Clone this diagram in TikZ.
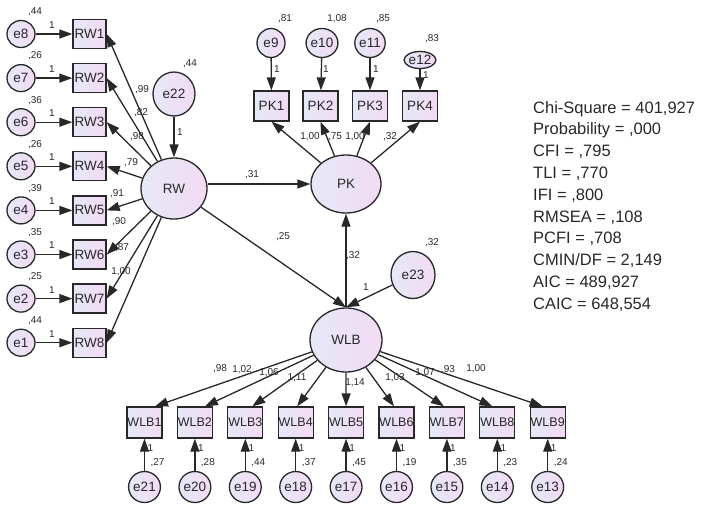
\documentclass[tikz,border=0pt]{standalone}
\usepackage{fontspec}
\setmainfont{Liberation Sans}
\usetikzlibrary{arrows.meta,shapes.geometric,calc}
\definecolor{lavA}{RGB}{229,232,247}
\definecolor{lavB}{RGB}{242,219,244}
\definecolor{ink}{RGB}{40,40,40}
\begin{document}
\begin{tikzpicture}[x=1pt,y=-1pt,
 base/.style={draw=ink, line width=1.3pt, left color=lavA, right color=lavB, inner sep=0pt, font=\fontsize{13.5}{13.5}\selectfont, text=ink},
 obs/.style={base, rectangle, minimum width=34pt, minimum height=30pt},
 lat/.style={base, ellipse},
 arr/.style={draw=ink, line width=1.3pt, -{Triangle[length=13pt,width=9pt]}},
 lbl/.style={font=\fontsize{10}{10}\selectfont, text=ink, inner sep=0pt},
]
\useasboundingbox (0,0) rectangle (706,507);
% latent variables
\node[lat, minimum width=66pt, minimum height=61pt] (rw) at (174,188.5) {RW};
\node[lat, minimum width=70pt, minimum height=58pt] (pk) at (346,184) {PK};
\node[lat, minimum width=72pt, minimum height=64pt] (wlb) at (346,340) {WLB};
\node[lat, minimum width=42pt, minimum height=44pt] (e22) at (174,94) {e22};
\node[lat, minimum width=44pt, minimum height=47pt] (e23) at (413,275) {e23};
\node[lbl] at (190,64) {,44};
\node[lbl] at (432,243) {,32};
% RW indicators
\foreach \i/\e/\v [count=\k from 0] in {1/8/{,44},2/7/{,26},3/6/{,36},4/5/{,26},5/4/{,39},6/3/{,35},7/2/{,25},8/1/{,44}} {
  \pgfmathsetmacro\yy{34+44.1*\k}
  \node[obs, minimum width=33pt, minimum height=29pt] (rw\i) at (89.5,\yy) {RW\i};
  \node[lat, minimum width=28pt, minimum height=27pt] (e\e) at (21,\yy) {e\e};
  \node[lbl] at (35,\yy-22) {\v};
  \draw[arr] (e\e) -- (rw\i);
  \node[lbl] at (52,\yy-9) {1};
  \draw[arr] (rw) -- (rw\i.east);
}
\foreach \lx/\ly/\t in {142/90/{,99},141/113/{,82},137/137/{,98},131/163/{,79},117/194/{,91},119/222/{,90},122/248/{,87},121/272/{1,00}} {
  \node[lbl] at (\lx,\ly) {\t};
}
\draw[arr] (e22) -- (rw);
\node[lbl] at (180,132) {1};
% PK indicators
\node[lat, minimum width=28pt, minimum height=29pt] (e9) at (271,43) {e9};
\node[lat, minimum width=28pt, minimum height=29pt] (e10) at (322,43) {e10};
\node[lat, minimum width=28pt, minimum height=29pt] (e11) at (370,43) {e11};
\node[lat, minimum width=22pt, minimum height=17pt] (e12) at (420,60) {e12};
\node[obs, minimum width=35pt] (pk1) at (271.5,106) {PK1};
\node[obs, minimum width=35pt] (pk2) at (320.5,106) {PK2};
\node[obs, minimum width=35pt] (pk3) at (370,106) {PK3};
\node[obs, minimum width=35pt] (pk4) at (420,106) {PK4};
\foreach \i/\e/\lx/\ly/\v/\vx/\vy in {1/9/277/69/{,81}/285/19, 2/10/326/69/{1,08}/337/19, 3/11/376/69/{,85}/383/19, 4/12/426/75/{,83}/432/39} {
  \draw[arr] (e\e) -- (pk\i);
  \node[lbl] at (\lx,\ly) {1};
  \node[lbl] at (\vx,\vy) {\v};
  \draw[arr] (pk) -- (pk\i.south);
}
\node[lbl] at (310,137) {1,00};
\node[lbl] at (335,137) {,75};
\node[lbl] at (355,137) {1,00};
\node[lbl] at (390,137) {,32};
% structural paths
\draw[arr] (rw.east |- pk.west) -- (pk.west);
\node[lbl] at (252,175) {,31};
\draw[arr] (rw) -- (wlb.north);
\node[lbl] at (283,237) {,25};
\draw[arr] (wlb.north) -- (pk.south);
\node[lbl] at (353,256) {,32};
\draw[arr] (e23) -- (wlb.north);
\node[lbl] at (366,287) {1};
% WLB indicators
\foreach \i/\e/\v/\dx [count=\k from 0] in {1/21/{,27}/10.5, 2/20/{,28}/10, 3/19/{,44}/7, 4/18/{,37}/1.5, 5/17/{,45}/0, 6/16/{,19}/-2.5, 7/15/{,35}/-3, 8/14/{,23}/-5, 9/13/{,24}/-5} {
  \pgfmathsetmacro\xx{144.5+50.4*\k}
  \node[obs, minimum width=35pt, minimum height=31pt, font=\fontsize{12.5}{12.5}\selectfont] (wlb\i) at (\xx,422.5) {WLB\i};
  \node[lat, minimum width=30pt, minimum height=31pt] (e\e) at (\xx,487) {e\e};
  \draw[arr] (e\e) -- (wlb\i);
  \node[lbl] at (\xx+6,448) {1};
  \node[lbl] at (\xx+13,463) {\v};
  \draw[arr] (wlb) -- ([xshift=\dx pt]wlb\i.north);
}
\foreach \lx/\ly/\t in {220/369/{,98},242/370/{1,02},269/373/{1,06},297/378/{1,11},355/383/{1,14},395/378/{1,03},425/373/{1,07},448/370/{,93},476/369/{1,00}} {
  \node[lbl] at (\lx,\ly) {\t};
}
% fit statistics
\node[anchor=north west, align=left, inner sep=0pt, text=ink, font=\fontsize{16.5}{21.8}\selectfont] (fit) at (533,101) {Chi-Square = 401,927\\Probability = ,000\\CFI = ,795\\TLI = ,770\\IFI = ,800\\RMSEA = ,108\\PCFI = ,708\\CMIN/DF = 2,149\\AIC = 489,927\\CAIC = 648,554};
\end{tikzpicture}
\end{document}
